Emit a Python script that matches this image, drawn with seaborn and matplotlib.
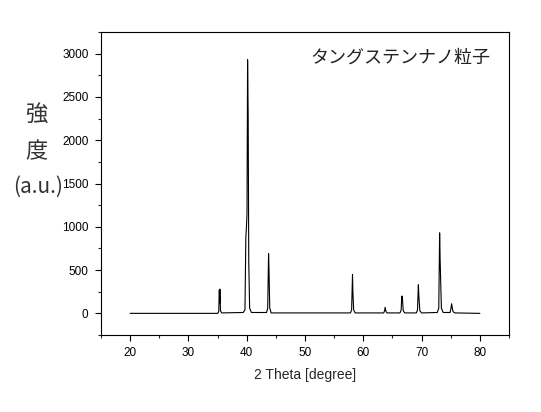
import matplotlib
matplotlib.use("Agg")
import matplotlib.pyplot as plt
from matplotlib.ticker import MultipleLocator
import seaborn as sns

# XRD profile (2 theta in degree, intensity in a.u.)
two_theta = [
    20.0, 35.0, 35.2, 35.3, 35.35, 35.4, 35.5, 35.7,
    39.4, 39.7, 39.85, 39.95, 40.05, 40.15, 40.25, 40.35, 40.5, 40.8,
    43.4, 43.6, 43.75, 43.82, 43.95, 44.2,
    57.8, 58.0, 58.15, 58.22, 58.35, 58.6,
    63.5, 63.65, 63.75, 63.9, 64.1,
    66.3, 66.5, 66.6, 66.7, 66.85, 67.1,
    69.1, 69.3, 69.45, 69.55, 69.7, 70.0,
    72.7, 72.95, 73.1, 73.18, 73.25, 73.4, 73.7,
    74.9, 75.05, 75.15, 75.25, 75.4, 75.7, 80.0,
]
intensity = [
    0, 0, 20, 270, 120, 280, 30, 5,
    10, 40, 880, 990, 1150, 2930, 2280, 600, 60, 10,
    10, 60, 690, 520, 60, 5,
    5, 40, 450, 240, 40, 5,
    5, 30, 70, 20, 5,
    5, 40, 200, 190, 30, 5,
    5, 40, 330, 185, 30, 5,
    10, 60, 930, 630, 450, 60, 10,
    10, 60, 110, 70, 20, 5, 0,
]

title_text = "タングステンナノ粒子"
ylabel_lines = ["強", "度", "(a.u.)"]
xlabel_text = "2 Theta [degree]"

sns.set_style("ticks")
plt.rcParams['font.family'] = ['Liberation Sans', 'Noto Sans CJK JP', 'DejaVu Sans']

fig = plt.figure(figsize=(5.41, 4.12), dpi=100)
ax = fig.add_axes([101 / 541, 77 / 412, 408 / 541, 303 / 412])

sns.lineplot(x=two_theta, y=intensity, color="black", linewidth=0.8,
             estimator=None, sort=False, ax=ax)

ax.set_xlim(15, 85)
ax.set_ylim(-250, 3250)
ax.xaxis.set_major_locator(MultipleLocator(10))
ax.xaxis.set_minor_locator(MultipleLocator(5))
ax.yaxis.set_major_locator(MultipleLocator(500))
ax.yaxis.set_minor_locator(MultipleLocator(250))
ax.tick_params(which="major", direction="out", length=4, width=0.8,
               labelsize=8.5, pad=5, colors="black")
ax.tick_params(which="minor", direction="out", length=2.5, width=0.8)
for s in ax.spines.values():
    s.set_linewidth(0.8)
    s.set_color("black")

ax.set_xlabel(xlabel_text, fontsize=10, labelpad=6)
ax.set_ylabel("")

ax.text(0.955, 0.915, title_text, transform=ax.transAxes, ha="right",
        va="center", fontsize=13, family=['Noto Sans CJK JP'], color="#222222")

fig.text(36 / 541, 1 - 114 / 412, ylabel_lines[0], ha="center", va="center",
         fontsize=16, family=['Noto Sans CJK JP'], color="#333333")
fig.text(36 / 541, 1 - 152 / 412, ylabel_lines[1], ha="center", va="center",
         fontsize=16, family=['Noto Sans CJK JP'], color="#333333")
fig.text(38 / 541, 1 - 187 / 412, ylabel_lines[2], ha="center", va="center",
         fontsize=15, family=['Noto Sans CJK JP'], color="#333333")

fig.savefig("out.png", dpi=100, facecolor="white")
